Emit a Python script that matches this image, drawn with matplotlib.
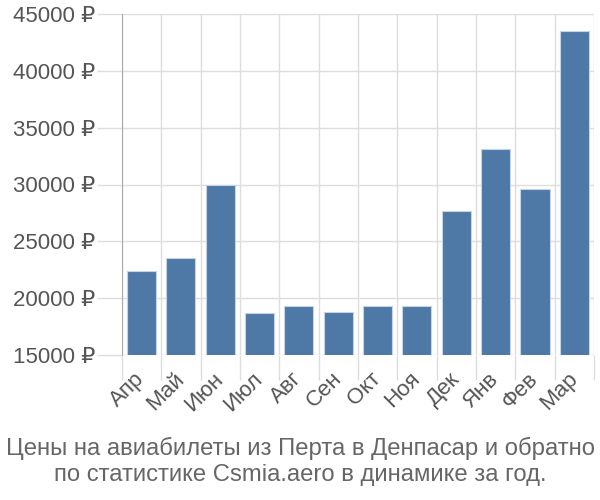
import matplotlib.pyplot as plt
import numpy as np

plt.rcParams['font.family'] = ['Liberation Sans', 'DejaVu Sans']

months = ['Апр', 'Май', 'Июн', 'Июл', 'Авг', 'Сен', 'Окт', 'Ноя', 'Дек', 'Янв', 'Фев', 'Мар']
prices = [22400, 23500, 29950, 18700, 19350, 18800, 19350, 19350, 27650, 33100, 29600, 43500]
yticks = [15000, 20000, 25000, 30000, 35000, 40000, 45000]

fig = plt.figure(figsize=(6, 5), dpi=100)
ax = fig.add_axes([0.203, 0.29, 0.787, 0.682])

x = np.arange(len(months))
ax.bar(x, prices, width=0.74, color='#4e79a7', edgecolor='#c5d3e3', linewidth=0.8, zorder=3)

ax.set_xlim(-0.5, len(months) - 0.5)
ax.set_ylim(15000, 45000)

ax.set_yticks(yticks)
ax.set_yticklabels([f'{v} ₽' for v in yticks])
ax.set_xticks(x)
ax.set_xticklabels(months, rotation=45, ha='right', va='center', rotation_mode='anchor')
ax.set_xticks(np.arange(len(months) + 1) - 0.5, minor=True)

ax.tick_params(axis='x', which='major', length=0, pad=15, labelsize=16, labelcolor='#555555')
ax.tick_params(axis='x', which='minor', length=18, color='#dddddd', width=1)
ax.tick_params(axis='y', length=18, color='#dddddd', width=1, labelsize=16, labelcolor='#555555', pad=1)

ax.grid(axis='y', color='#dddddd', linewidth=1, zorder=0)
ax.grid(axis='x', which='minor', color='#dddddd', linewidth=1, zorder=0)

for s in ['top', 'right', 'bottom']:
    ax.spines[s].set_visible(False)
ax.spines['left'].set_color('#aaaaaa')
ax.spines['left'].set_zorder(4)

fig.text(0.5, 0.077, 'Цены на авиабилеты из Перта в Денпасар и обратно\nпо статистике Csmia.aero в динамике за год.',
         ha='center', va='center', fontsize=17.2, color='#666666', linespacing=1.2)

plt.savefig('out.png', dpi=100)
